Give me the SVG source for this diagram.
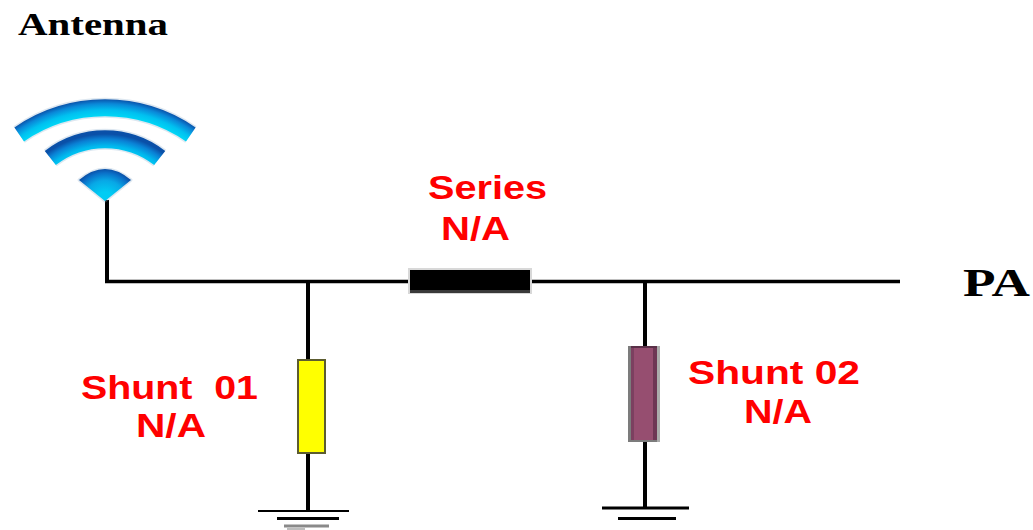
<svg xmlns="http://www.w3.org/2000/svg" width="1033" height="530" viewBox="0 0 1033 530">
  <style>
    .wire{stroke:#000;stroke-width:4;fill:none}
    .bus{stroke:#000;stroke-width:3.500;fill:none}
    .gnd{stroke:#000;fill:none}
    .red{font-family:"Liberation Sans",Arial,sans-serif;font-weight:700;font-size:34px;fill:#ff0000;white-space:pre}
    .blk{font-family:"Liberation Serif","Times New Roman",serif;font-weight:700;fill:#000}
    .halo{fill:none;stroke:#8fb0cc;stroke-opacity:.3}
  </style>
  <defs>
    <radialGradient id="g1" gradientUnits="userSpaceOnUse" cx="105" cy="259.4" r="160.5">
      <stop offset=".89" stop-color="#00d8f6"/><stop offset=".93" stop-color="#00c0f0"/><stop offset=".97" stop-color="#0a88d8"/><stop offset="1" stop-color="#0a50a8"/>
    </radialGradient>
    <radialGradient id="g2" gradientUnits="userSpaceOnUse" cx="105" cy="232.5" r="98.5">
      <stop offset=".81" stop-color="#00d8f6"/><stop offset=".88" stop-color="#00b8ee"/><stop offset=".95" stop-color="#0a80d4"/><stop offset="1" stop-color="#0a50a8"/>
    </radialGradient>
    <radialGradient id="g3" gradientUnits="userSpaceOnUse" cx="105" cy="202" r="33">
      <stop offset=".3" stop-color="#00ccf4"/><stop offset=".65" stop-color="#08a8e6"/><stop offset=".88" stop-color="#0a70c8"/><stop offset="1" stop-color="#0a50a8"/>
    </radialGradient>
  </defs>
  <rect width="1033" height="530" fill="#fff"/>

  <g id="connectors">
    <path class="wire" d="M107 200V281"/>
    <path class="bus" d="M105 281.500H900"/>
    <path class="wire" d="M308 281V511"/>
    <path class="wire" d="M645 281V508"/>
  </g>

  <g id="antenna">
    <text class="blk" x="18" y="35" font-size="32" textLength="150" lengthAdjust="spacingAndGlyphs">Antenna</text>
    <path class="halo" stroke-width="20" d="M19.200 134.500A151.500 151.500 0 0 1 190.800 134.500"/>
    <path class="halo" stroke-width="21" d="M50.300 158A89 89 0 0 1 159.700 158"/>
    <path fill="none" stroke="url(#g1)" stroke-width="17" d="M19.200 134.500A151.500 151.500 0 0 1 190.800 134.500"/>
    <path fill="none" stroke="url(#g2)" stroke-width="18" d="M50.300 158A89 89 0 0 1 159.700 158"/>
    <path fill="#8fb0cc" fill-opacity=".3" stroke="#8fb0cc" stroke-opacity=".3" stroke-width="3" stroke-linejoin="round" d="M105 201L79 180Q105 158 131 180Z"/>
    <path fill="url(#g3)" d="M105 201L79 180Q105 158 131 180Z"/>
  </g>

  <g id="series">
    <rect x="408" y="268" width="124" height="26" fill="#d8d8d8"/>
    <rect x="410" y="270" width="120" height="23" fill="#000"/>
    <rect x="410" y="290" width="120" height="3" fill="#3a3a3a"/>
    <text class="red" x="428" y="199" textLength="119" lengthAdjust="spacingAndGlyphs">Series</text>
    <text class="red" x="441" y="240" textLength="69" lengthAdjust="spacingAndGlyphs">N/A</text>
  </g>

  <g id="shunt01">
    <rect x="298" y="360" width="27" height="93" fill="#ffff00" stroke="#5c5c30" stroke-width="2"/>
    <text class="red" x="81" y="399" textLength="177" lengthAdjust="spacingAndGlyphs">Shunt  01</text>
    <text class="red" x="136" y="437" textLength="70" lengthAdjust="spacingAndGlyphs">N/A</text>
  </g>

  <g id="shunt02">
    <rect x="628" y="346" width="32" height="96" fill="#7c7c7c"/>
    <rect x="657" y="346" width="3" height="96" fill="#ababab"/>
    <rect x="631" y="347" width="26" height="93" fill="#964e70"/>
    <rect x="631" y="347" width="3" height="93" fill="#7c4060"/>
    <rect x="653" y="347" width="4" height="93" fill="#6e3654"/>
    <rect x="631" y="346" width="26" height="2" fill="#5a3048"/>
    <text class="red" x="688" y="384" textLength="172" lengthAdjust="spacingAndGlyphs">Shunt 02</text>
    <text class="red" x="744" y="423" textLength="68" lengthAdjust="spacingAndGlyphs">N/A</text>
  </g>

  <g id="ground01">
    <path class="gnd" stroke-width="2" d="M258 511H349"/>
    <path class="gnd" stroke-width="3" d="M277 518.500H339"/>
    <path stroke="#8a8a8a" stroke-width="3" fill="none" d="M284 526H329"/>
    <path stroke="#bdbdbd" stroke-width="2" fill="none" d="M287 529H305"/>
  </g>

  <g id="ground02">
    <path class="gnd" stroke-width="3" d="M602 508H689"/>
    <path class="gnd" stroke-width="3" d="M618 518.500H676"/>
  </g>

  <g id="pa">
    <text class="blk" x="963" y="296" font-size="41" textLength="67" lengthAdjust="spacingAndGlyphs">PA</text>
  </g>
</svg>
